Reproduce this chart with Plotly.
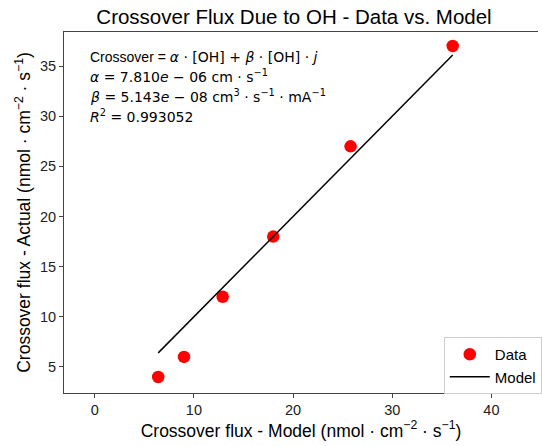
import plotly.graph_objects as go

model_flux = [6.4, 9.0, 12.9, 18.0, 25.8, 36.1]
actual_flux = [4, 6, 12, 18, 27, 37]
x_ticks = [0, 10, 20, 30, 40]
y_ticks = [5, 10, 15, 20, 25, 30, 35]

FONT = "Liberation Sans, Arial, sans-serif"
MATH = "DejaVu Sans, sans-serif"

fig = go.Figure()
fig.add_trace(go.Scatter(
    x=model_flux, y=actual_flux, mode="markers", name="Data",
    marker=dict(color="red", size=12.5, line=dict(width=0)),
))
line_x = [min(model_flux), max(model_flux)]
fig.add_trace(go.Scatter(
    x=line_x, y=line_x, mode="lines", name="Model",
    line=dict(color="black", width=1.5),
))

eq_lines = [
    "<span style='font-family:Liberation Sans'>Crossover = </span><i>α</i> · [OH] + <i>β</i> · [OH] · <i>j</i>",
    "<i>α</i> = 7.810<i>e</i> − 06 cm · s<sup>−1</sup>",
    "<i>β</i> = 5.143<i>e</i> − 08 cm<sup>3</sup> · s<sup>−1</sup> · mA<sup>−1</sup>",
    "<i>R</i><sup>2</sup> = 0.993052",
]
ys = [57, 76, 96, 116]
for t, yp in zip(eq_lines, ys):
    fig.add_annotation(
        text=t, xref="paper", yref="paper",
        x=(88 - 64) / 478, y=(393 - yp) / 361,
        xanchor="left", yanchor="middle", showarrow=False,
        font=dict(family=MATH, size=14, color="black"),
    )

fig.update_layout(
    width=542, height=446,
    margin=dict(l=64, r=0, t=32, b=53),
    paper_bgcolor="white", plot_bgcolor="white",
    font=dict(family=FONT, color="black"),
    title=dict(text="Crossover Flux Due to OH - Data vs. Model",
               x=294 / 542, xanchor="center", y=1 - 17 / 446, yanchor="middle",
               font=dict(size=20.5, family=FONT, color="black")),
    showlegend=True,
    legend=dict(x=(447 - 64) / 478, y=(393 - 337) / 361, xanchor="left", yanchor="top",
                bordercolor="#cccccc", borderwidth=1, bgcolor="white",
                itemwidth=40,
                font=dict(size=15, family=FONT)),
)
fig.update_xaxes(
    range=[-3.1, 44.7], tickvals=x_ticks, ticks="outside", ticklen=4,
    showgrid=False, zeroline=False, showline=True, linecolor="#444", linewidth=1,
    mirror=True, tickfont=dict(size=14.5, color="#222"),
    title=dict(text="Crossover flux - Model (nmol · cm<sup>−2</sup> · s<sup>−1</sup>)",
               font=dict(size=17.5), standoff=6),
)
fig.update_yaxes(
    range=[2.4, 38.4], tickvals=y_ticks, ticks="outside", ticklen=4,
    showgrid=False, zeroline=False, showline=True, linecolor="#444", linewidth=1,
    tickfont=dict(size=14.5, color="#222"),
    title=dict(text="Crossover flux - Actual (nmol · cm<sup>−2</sup> · s<sup>−1</sup>)",
               font=dict(size=17.5), standoff=4),
)
fig.write_html("out.html")
